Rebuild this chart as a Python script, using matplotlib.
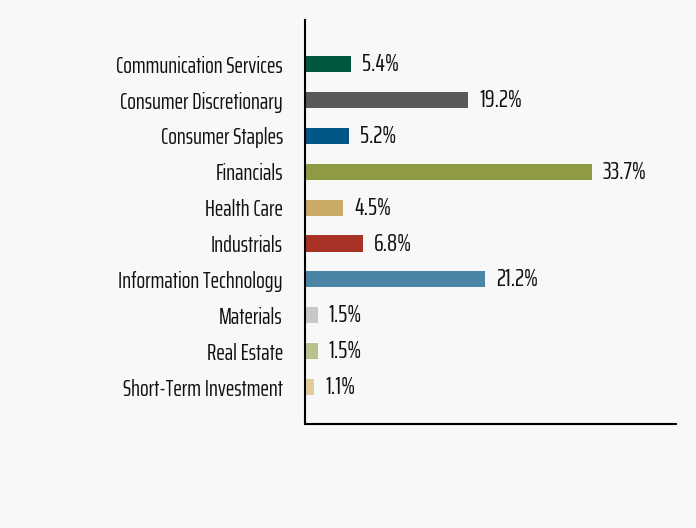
import matplotlib
matplotlib.use("Agg")
import matplotlib.pyplot as plt

plt.rcParams['font.family'] = ['Saira ExtraCondensed', 'DejaVu Sans']

# sector weights
sectors = [
    "Communication Services", "Consumer Discretionary", "Consumer Staples",
    "Financials", "Health Care", "Industrials", "Information Technology",
    "Materials", "Real Estate", "Short-Term Investment",
]
weights = [5.4, 19.2, 5.2, 33.7, 4.5, 6.8, 21.2, 1.5, 1.5, 1.1]
colors = [
    "#00573f", "#595959", "#005685", "#8f9a42", "#c9ab66",
    "#a93226", "#4a85a6", "#c8c8c8", "#b9c28d", "#e1cb9b",
]

bg = "#f8f8f8"
fig = plt.figure(figsize=(6.96, 5.28), dpi=100, facecolor=bg)
ax = fig.add_axes([0.4382, 0.197, 0.5331, 0.765], facecolor=bg)

pos = list(range(len(sectors)))
ax.barh(pos, weights, height=0.45, color=colors)

# value labels just right of each bar
for p, w in zip(pos, weights):
    ax.text(w + 1.3, p, f"{w}%", va="center", ha="left", fontsize=18, color="#111111")

ax.set_yticks(pos)
ax.set_yticklabels(sectors, fontsize=16.5, color="#111111")
ax.tick_params(axis="y", length=0, pad=16)
ax.set_xticks([])
ax.set_xlim(0, 43.6)
ax.set_ylim(10.03, -1.23)

for s in ["top", "right"]:
    ax.spines[s].set_visible(False)
for s in ["left", "bottom"]:
    ax.spines[s].set_linewidth(1.5)
    ax.spines[s].set_color("black")

fig.savefig("out.png", dpi=100, facecolor=bg)
